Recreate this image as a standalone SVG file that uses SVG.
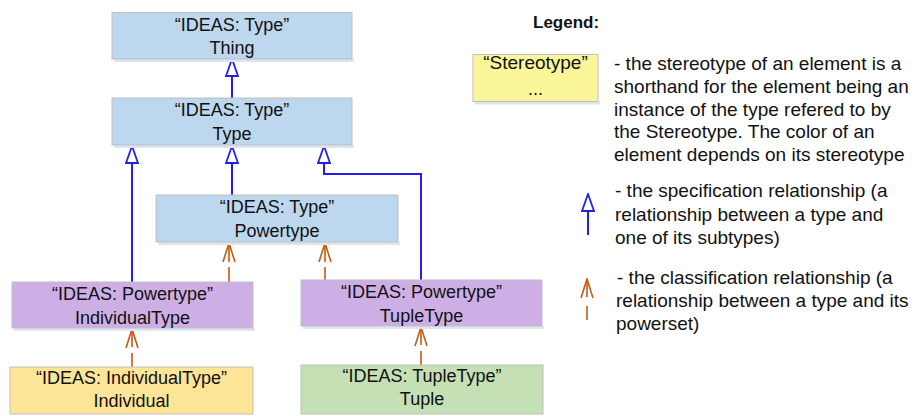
<svg xmlns="http://www.w3.org/2000/svg" width="917" height="416" viewBox="0 0 917 416">
<style>
text{font-family:"Liberation Sans",Arial,sans-serif;fill:#111}
.n{font-size:18px;text-anchor:middle}
.lg{font-size:19px}
.box{stroke:#bfbfbf;stroke-width:1}
.sh{fill:#dce6f2}
.blue{fill:#bdd7ee}.purple{fill:#cdafe6}.yellow{fill:#fde598}.green{fill:#c5e0b4}.ly{fill:#fbf69a}
.spec{stroke:#2020e6;stroke-width:2;fill:none}
.cls{stroke:#c55a11;stroke-width:1.6;fill:none}
</style>
<defs>
<marker id="gen" viewBox="0 0 19 14" refX="18" refY="7" markerWidth="19" markerHeight="14" markerUnits="userSpaceOnUse" orient="auto">
<path d="M18,7 L1,1 L1,13 Z" fill="#fff" stroke="#2020e6" stroke-width="1.8"/>
</marker>
<marker id="opn" viewBox="0 0 21 14" refX="20" refY="7" markerWidth="21" markerHeight="14" markerUnits="userSpaceOnUse" orient="auto">
<path d="M1,1 L20,7 L1,13" fill="none" stroke="#c55a11" stroke-width="1.6"/>
</marker>
</defs>

<g id="connectors">
<line class="spec" x1="232" y1="98" x2="232" y2="59" marker-end="url(#gen)"/>
<line class="spec" x1="132" y1="282" x2="132" y2="146" marker-end="url(#gen)"/>
<line class="spec" x1="232" y1="195" x2="232" y2="146" marker-end="url(#gen)"/>
<polyline class="spec" points="421,280 421,174 324,174 324,146" marker-end="url(#gen)"/>
<line class="cls" x1="229" y1="282" x2="229" y2="267"/>
<line class="cls" x1="229" y1="262" x2="229" y2="243" marker-end="url(#opn)"/>
<line class="cls" x1="325" y1="280" x2="325" y2="267"/>
<line class="cls" x1="325" y1="262" x2="325" y2="243" marker-end="url(#opn)"/>
<line class="cls" x1="132" y1="367" x2="132" y2="353"/>
<line class="cls" x1="132" y1="347" x2="132" y2="329" marker-end="url(#opn)"/>
<line class="cls" x1="421" y1="365" x2="421" y2="351"/>
<line class="cls" x1="421" y1="345" x2="421" y2="327" marker-end="url(#opn)"/>
</g>

<g id="thing">
<rect class="sh" x="114" y="59" width="240" height="3"/>
<rect class="box blue" x="112" y="12.5" width="240" height="46.5"/>
<text class="n" x="232" y="30.5">“IDEAS: Type”</text>
<text class="n" x="232" y="54">Thing</text>
</g>
<g id="type">
<rect class="sh" x="114" y="145" width="240" height="3"/>
<rect class="box blue" x="112" y="98" width="240" height="47"/>
<text class="n" x="232" y="115.5">“IDEAS: Type”</text>
<text class="n" x="232" y="140">Type</text>
</g>
<g id="powertype">
<rect class="sh" x="158" y="242" width="242" height="3"/>
<rect class="box blue" x="156" y="195" width="242" height="47"/>
<text class="n" x="277" y="212.5">“IDEAS: Type”</text>
<text class="n" x="277" y="237">Powertype</text>
</g>
<g id="individualType">
<rect class="sh" x="14" y="328" width="241" height="3"/>
<rect class="box purple" x="12" y="282" width="241" height="46"/>
<text class="n" x="132.5" y="300">“IDEAS: Powertype”</text>
<text class="n" x="132.5" y="323.5">IndividualType</text>
</g>
<g id="tupleType">
<rect class="sh" x="303" y="326" width="241" height="3"/>
<rect class="box purple" x="301" y="280" width="241" height="46"/>
<text class="n" x="421.5" y="298">“IDEAS: Powertype”</text>
<text class="n" x="421.5" y="321.5">TupleType</text>
</g>
<g id="individual">
<rect class="box yellow" x="10" y="367" width="243" height="47"/>
<text class="n" x="131.5" y="384">“IDEAS: IndividualType”</text>
<text class="n" x="131.5" y="407">Individual</text>
</g>
<g id="tuple">
<rect class="box green" x="301" y="365" width="242" height="49"/>
<text class="n" x="422" y="382">“IDEAS: TupleType”</text>
<text class="n" x="422" y="405">Tuple</text>
</g>

<g id="legend">
<text x="533" y="28" style="font-size:17px;font-weight:bold">Legend:</text>
<rect class="sh" x="475" y="101.5" width="125" height="3"/>
<rect class="box ly" x="473" y="54.5" width="125" height="47"/>
<text class="n" x="535.5" y="69" style="font-size:19px">“Stereotype”</text>
<text class="n" x="535.5" y="95">...</text>
<text class="lg" x="614" y="70">- the stereotype of an element is a</text>
<text class="lg" x="614" y="93">shorthand for the element being an</text>
<text class="lg" x="614" y="115.5">instance of the type refered to by</text>
<text class="lg" x="614" y="138">the Stereotype. The color of an</text>
<text class="lg" x="614" y="160.5">element depends on its stereotype</text>
<line class="spec" x1="588" y1="235" x2="588" y2="194" marker-end="url(#gen)"/>
<text class="lg" x="615" y="197">- the specification relationship (a</text>
<text class="lg" x="615" y="220.5">relationship between a type and</text>
<text class="lg" x="615" y="244">one of its subtypes)</text>
<line class="cls" x1="587" y1="320" x2="587" y2="306"/>
<line class="cls" x1="587" y1="297" x2="587" y2="279" marker-end="url(#opn)"/>
<text class="lg" x="617" y="283.5">- the classification relationship (a</text>
<text class="lg" x="616" y="306.5">relationship between a type and its</text>
<text class="lg" x="616" y="329.5">powerset)</text>
</g>
</svg>
